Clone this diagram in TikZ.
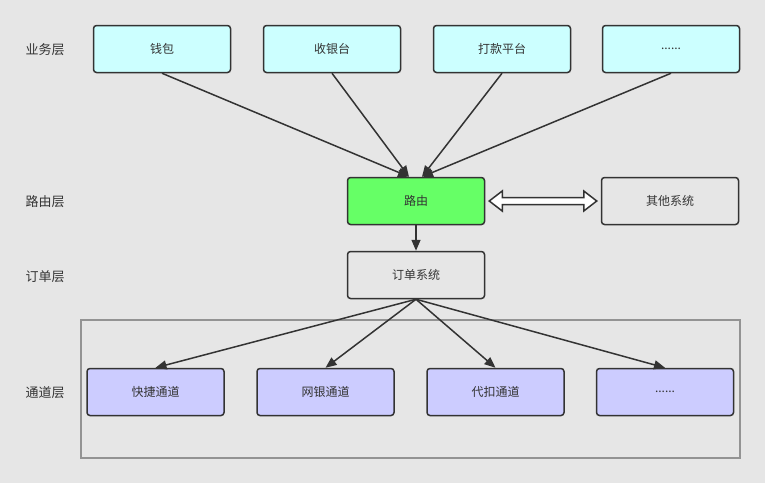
\documentclass[tikz,border=0pt]{standalone}
\usepackage{fontspec}
\setmainfont{Noto Sans CJK SC}
\usepackage{xcolor}
\usetikzlibrary{arrows.meta}
\usetikzlibrary{calc}

\definecolor{bgray}{HTML}{E6E6E6}
\definecolor{ink}{HTML}{333333}
\definecolor{bizfill}{HTML}{CCFFFF}
\definecolor{routefill}{HTML}{66FF66}
\definecolor{chanfill}{HTML}{CCCCFF}

\begin{document}
\begin{tikzpicture}[x=1pt, y=-1pt,
  every node/.style={text=ink, font=\fontsize{12}{14}\selectfont},
  box/.style={draw=ink, line width=1.5pt, rounded corners=3pt, minimum width=137pt, minimum height=47pt, inner sep=0pt},
  biz/.style={box, fill=bizfill},
  route/.style={box, fill=routefill},
  sys/.style={box, fill=bgray},
  chan/.style={box, fill=chanfill},
  layer/.style={font=\fontsize{13}{15}\selectfont},
  link/.style={draw=ink, line width=1.5pt, -{Triangle[length=11pt, width=9pt]}}]
  \useasboundingbox[fill=bgray] (0,0) rectangle (765,483);
  % channel frame
  \draw[draw=gray!85, line width=1.5pt] (81,320) rectangle (740,458);
  % layer labels
  \node[layer] (Lbiz) at (45,50) {业务层};
  \node[layer] (Lroute) at (45,202) {路由层};
  \node[layer] (Lorder) at (45,277) {订单层};
  \node[layer] (Lchan) at (45,393) {通道层};
  % business layer
  \node[biz] (wallet) at (162,49) {钱包};
  \node[biz] (cashier) at (332,49) {收银台};
  \node[biz] (payout) at (502,49) {打款平台};
  \node[biz] (bizmore) at (671,49) {......};
  % routing
  \node[route] (router) at (416,201) {路由};
  \node[sys] (other) at (670,201) {其他系统};
  \node[sys] (order) at (416,275) {订单系统};
  % channels
  \node[chan] (quick) at (155.5,392) {快捷通道};
  \node[chan] (ebank) at (325.5,392) {网银通道};
  \node[chan] (deduct) at (495.5,392) {代扣通道};
  \node[chan] (chanmore) at (665,392) {......};
  \coordinate (inL) at ($(router.north)+(-7,0)$);
  \coordinate (inR) at ($(router.north)+(6,0)$);
  \draw[link] (wallet.south) -- (inL);
  \draw[link] (cashier.south) -- (inL);
  \draw[link] (payout.south) -- (inR);
  \draw[link] (bizmore.south) -- (inR);
  \draw[link] (router) -- (order);
  \foreach \c in {quick, ebank, deduct, chanmore}
    \draw[link] (order.south) -- (\c.north);
  % two-way link
  \coordinate (tipL) at ($(router.east)+(4,0)$);
  \coordinate (tipR) at ($(other.west)+(-4,0)$);
  \draw[draw=ink, fill=white, line width=1.5pt, line join=miter]
    (tipL) -- ++(13,-10) -- ++(0,6.5) -- ($(tipR)+(-13,-3.5)$) -- ++(0,-6.5)
    -- (tipR) -- ++(-13,10) -- ++(0,-6.5) -- ($(tipL)+(13,3.5)$) -- ++(0,6.5) -- cycle;
\end{tikzpicture}
\end{document}
